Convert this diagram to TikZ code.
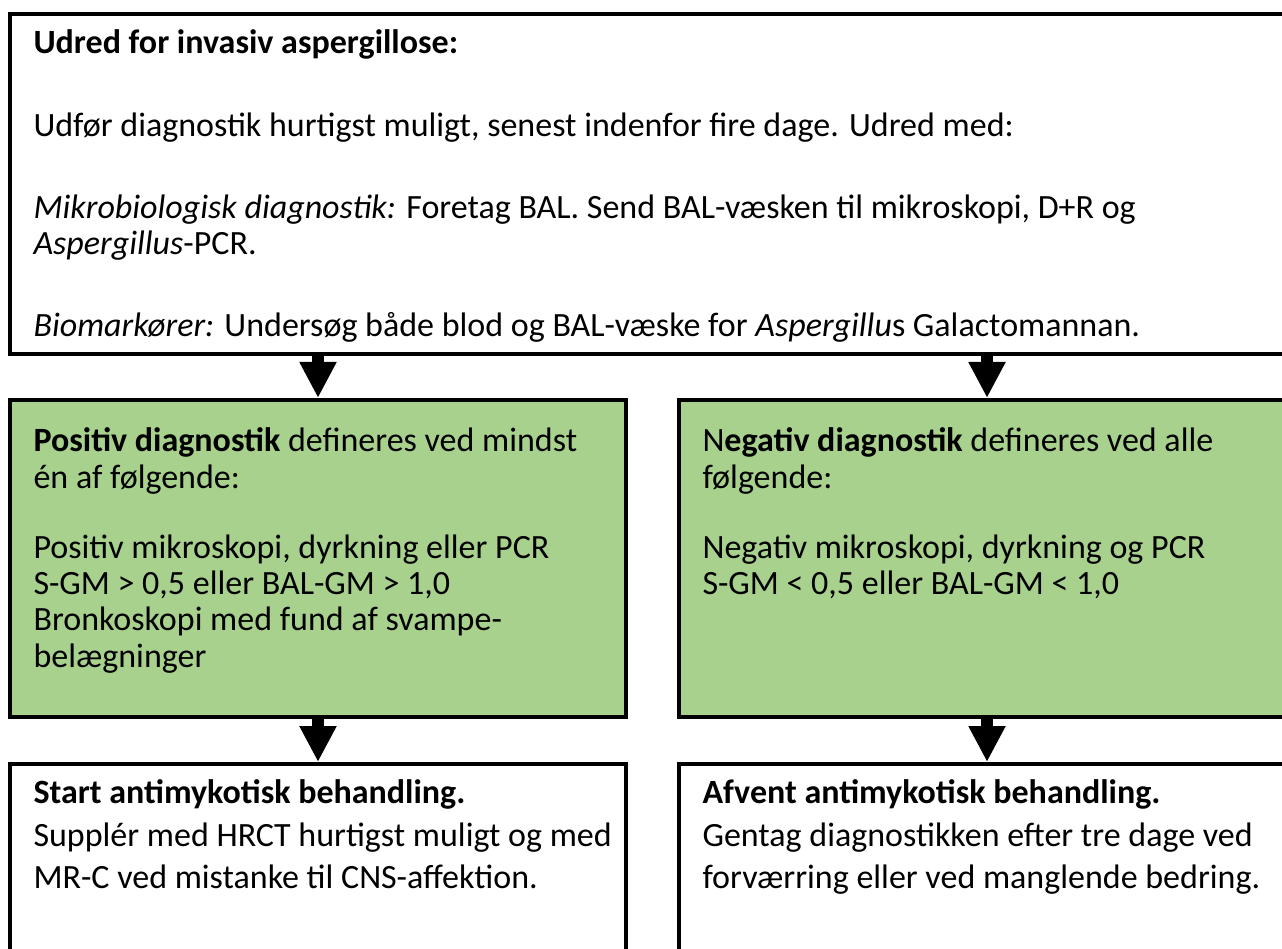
\documentclass[tikz,border=0pt]{standalone}
\usepackage{fontspec}
\setmainfont{Carlito}
\usetikzlibrary{arrows.meta,positioning}
\definecolor{boksgroen}{RGB}{169,209,142}

\begin{document}
\begin{tikzpicture}[x=0.375pt, y=-0.375pt,
  boks/.style={draw=black, line width=1.5pt, rectangle, inner sep=0pt, minimum width=231pt},
  groen/.style={boks, fill=boksgroen, minimum height=118.9pt},
  tekst/.style={anchor=north west, inner sep=0pt, align=left, font=\fontsize{12.75pt}{13.6pt}\selectfont},
  luft/.style={tekst, font=\fontsize{12.75pt}{16pt}\selectfont},
  pil/.style={line width=4.5pt, -{Triangle[width=13pt,length=13.5pt]}}]
  % Rammen
  \useasboundingbox (0,0) rectangle (1282,948);
  \clip (0,0) rectangle (1282,948);
  % Kasser
  \node[boks, minimum width=480pt, minimum height=127.5pt] (udred) at (650,184) {};
  \node[groen] (pos) at (318,558.5) {};
  \node[groen] (neg) at (987,558.5) {};
  \node[boks, minimum height=79.5pt] (start) at (318,870) {};
  \node[boks, minimum height=79.5pt] (afvent) at (987,870) {};
  % Tekster (strut i forste linje)
  \node[tekst] (udredtxt) at ([shift={(25,16)}]udred.north west) {%
    \strut\textbf{Udred for invasiv aspergillose:}\\[17.25pt]
    Udfør diagnostik hurtigst muligt, senest indenfor fire dage. Udred med:\\[17.25pt]
    \textit{Mikrobiologisk diagnostik:} Foretag BAL. Send BAL-væsken til mikroskopi, D+R og\\
    \textit{Aspergillus}-PCR.\\[17.25pt]
    \textit{Biomarkører:} Undersøg både blod og BAL-væske for \textit{Aspergillu}s Galactomannan.};
  \node[tekst] (postxt) at ([shift={(25,28)}]pos.north west) {%
    \strut\textbf{Positiv diagnostik} defineres ved mindst\\
    én af følgende:\\[12.75pt]
    Positiv mikroskopi, dyrkning eller PCR\\
    S-GM > 0,5 eller BAL-GM > 1,0\\
    Bronkoskopi med fund af svampe-\\
    belægninger};
  \node[tekst] (negtxt) at ([shift={(25,28)}]neg.north west) {%
    \strut N\textbf{egativ diagnostik} defineres ved alle\\
    følgende:\\[12.75pt]
    Negativ mikroskopi, dyrkning og PCR\\
    S-GM < 0,5 eller BAL-GM < 1,0};
  \node[luft] (starttxt) at ([shift={(25,11)}]start.north west) {%
    \strut\textbf{Start antimykotisk behandling.}\\
    Supplér med HRCT hurtigst muligt og med\\
    MR-C ved mistanke til CNS-affektion.};
  \node[luft] (afventtxt) at ([shift={(25,11)}]afvent.north west) {%
    \strut\textbf{Afvent antimykotisk behandling.}\\
    Gentag diagnostikken efter tre dage ved\\
    forværring eller ved manglende bedring.};
  % Pile
  \draw[pil] (pos.north |- udred.south) -- (pos.north);
  \draw[pil] (neg.north |- udred.south) -- (neg.north);
  \draw[pil] (pos.south) -- (start.north);
  \draw[pil] (neg.south) -- (afvent.north);
\end{tikzpicture}
\end{document}
